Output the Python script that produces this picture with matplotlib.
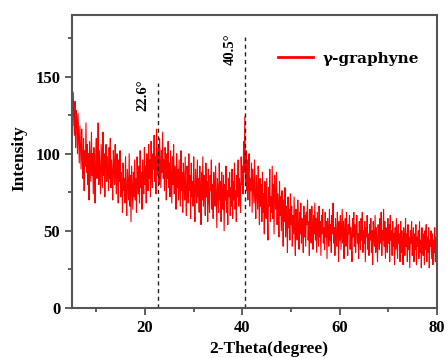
import matplotlib.pyplot as plt
import numpy as np

plt.rcParams['font.family'] = ['Liberation Serif', 'DejaVu Serif']
plt.rcParams['font.weight'] = 'bold'

# 2-theta from 5 to 80 deg, step 0.125 (one row = 5 deg)
theta_start, theta_step = 5.0, 0.125
intensity = [
    148, 118, 140, 126, 112, 134, 104, 128, 122, 100, 126, 110, 94, 118, 104, 90,
    116, 98, 84, 110, 76, 102, 92, 120, 88, 106, 80, 100, 70, 108, 94, 82,
    114, 86, 100, 74, 104, 90, 68, 98,
    110, 84, 96, 120, 80, 102, 88, 74, 106, 92, 78, 114, 86, 100, 72, 94,
    106, 82, 98, 90, 76, 104, 84, 110, 78, 96, 88, 70, 102, 92, 80, 106,
    86, 74, 100, 90, 68, 96, 82, 102,
    72, 88, 80, 62, 94, 76, 84, 68, 98, 74, 60, 90, 80, 70, 100, 66,
    86, 56, 92, 78, 64, 88, 72, 96, 70, 84, 62, 98, 80, 74, 92, 68,
    102, 78, 88, 64, 96, 82, 74, 104,
    80, 92, 68, 100, 86, 76, 106, 84, 96, 72, 108, 88, 78, 100, 90, 112,
    82, 98, 74, 116, 92, 86, 104, 80, 110, 94, 78, 102, 88, 114, 84, 96,
    76, 104, 90, 70, 100, 84, 108, 78,
    94, 72, 102, 86, 68, 98, 80, 106, 74, 92, 84, 64, 100, 78, 90, 70,
    96, 82, 66, 102, 76, 88, 62, 94, 80, 70, 98, 74, 60, 92, 84, 68,
    100, 76, 86, 58, 94, 72, 82, 66,
    98, 74, 56, 90, 80, 68, 96, 72, 84, 62, 92, 76, 54, 88, 70, 98,
    66, 86, 78, 60, 94, 72, 82, 56, 90, 70, 62, 86, 76, 96, 64, 80,
    58, 88, 74, 66, 92, 70, 52, 84,
    76, 62, 94, 70, 82, 56, 88, 72, 64, 86, 50, 80, 70, 92, 62, 76,
    54, 84, 72, 88, 60, 78, 66, 90, 58, 82, 70, 94, 64, 76, 56, 86,
    72, 96, 66, 84, 78, 62, 98, 80,
    92, 74, 108, 88, 124, 82, 102, 76, 96, 70, 88, 100, 66, 84, 76, 94,
    62, 90, 78, 68, 96, 72, 58, 86, 74, 64, 92, 70, 54, 84, 66, 80,
    56, 88, 62, 74, 48, 82, 68, 58,
    84, 60, 44, 78, 66, 90, 56, 72, 62, 92, 58, 80, 48, 86, 70, 64,
    88, 54, 74, 66, 46, 82, 60, 72, 50, 76, 62, 40, 70, 56, 78, 46,
    66, 58, 36, 72, 52, 64, 44, 74,
    54, 66, 40, 60, 48, 72, 50, 34, 64, 56, 44, 70, 52, 38, 62, 48,
    68, 42, 58, 52, 36, 66, 46, 60, 40, 62, 54, 70, 44, 56, 34, 64,
    50, 42, 66, 54, 38, 60, 48, 68,
    44, 58, 36, 62, 50, 40, 66, 46, 56, 34, 60, 48, 64, 42, 52, 38,
    62, 46, 56, 32, 58, 50, 40, 64, 44, 54, 36, 60, 48, 68, 42, 52,
    34, 58, 46, 40, 62, 50, 30, 56,
    44, 60, 38, 52, 64, 42, 56, 32, 50, 58, 40, 62, 46, 34, 54, 48,
    60, 38, 52, 44, 30, 58, 46, 62, 40, 54, 36, 50, 60, 42, 48, 32,
    56, 46, 38, 58, 44, 62, 36, 50,
    42, 56, 30, 52, 46, 60, 38, 48, 34, 54, 44, 58, 36, 50, 28, 56,
    46, 40, 60, 36, 52, 44, 30, 54, 48, 38, 58, 42, 62, 34, 50, 44,
    64, 40, 56, 32, 52, 46, 36, 58,
    42, 54, 30, 60, 44, 50, 34, 56, 40, 48, 28, 52, 38, 58, 44, 32,
    54, 42, 48, 30, 56, 36, 50, 40, 28, 52, 44, 34, 58, 40, 48, 30,
    54, 38, 46, 26, 50, 42, 56, 34,
    44, 52, 30, 48, 38, 54, 28, 46, 40, 50, 32, 56, 36, 44, 26, 52,
    42, 34, 48, 28, 50, 38, 54, 30, 46, 36, 52, 26, 44, 40, 50, 32,
    48, 28, 44, 36, 52, 30, 46, 38,
    40,
]
two_theta = theta_start + theta_step * np.arange(len(intensity))

peak_pos = [22.6, 40.5]
peak_top = [146, 176]
peak_labels = ['22.6°', '40.5°']

fig = plt.figure(figsize=(4.47, 3.58), dpi=100)
ax = fig.add_axes([0.161, 0.14, 0.817, 0.818])

ax.plot(two_theta, intensity, '-', color='#ff0000', linewidth=0.8, label='γ-graphyne')

for pos, top, lab in zip(peak_pos, peak_top, peak_labels):
    ax.vlines(pos, 0, top, colors='#222222', linestyles=(0, (3, 2.5)), linewidth=1.0)
    ax.text(pos - 3.0, top - 8, lab, rotation=90, ha='center', va='center',
            fontsize=10.5, fontweight='bold')

ax.set_xlim(5, 80)
ax.set_ylim(0, 190)
ax.set_xticks([20, 40, 60, 80])
ax.set_xticks([10, 30, 50, 70], minor=True)
ax.set_yticks([0, 50, 100, 150])
ax.set_yticks([25, 75, 125, 175], minor=True)
ax.tick_params(which='both', direction='out', top=False, right=False,
               labelsize=12, width=1.2, color='#444444')
ax.tick_params(which='major', length=5)
ax.tick_params(which='minor', length=3)
for lab in ax.get_xticklabels() + ax.get_yticklabels():
    lab.set_fontweight('bold')
for s in ax.spines.values():
    s.set_linewidth(1.5)
    s.set_color('#555555')

ax.set_xlabel('2-Theta(degree)', fontsize=12.5, fontweight='bold')
ax.xaxis.set_label_coords(0.54, -0.113)
ax.set_ylabel('Intensity', fontsize=12.5, fontweight='bold')
ax.yaxis.set_label_coords(-0.123, 0.51)

leg = ax.legend(loc='upper left', bbox_to_anchor=(0.565, 0.875), frameon=False,
                prop={'family': 'DejaVu Serif', 'weight': 'bold', 'size': 11},
                handlelength=2.3, handletextpad=0.6,
                borderpad=0, borderaxespad=0)
for h in leg.get_lines():
    h.set_linewidth(2)

fig.savefig('out.png', dpi=100)
